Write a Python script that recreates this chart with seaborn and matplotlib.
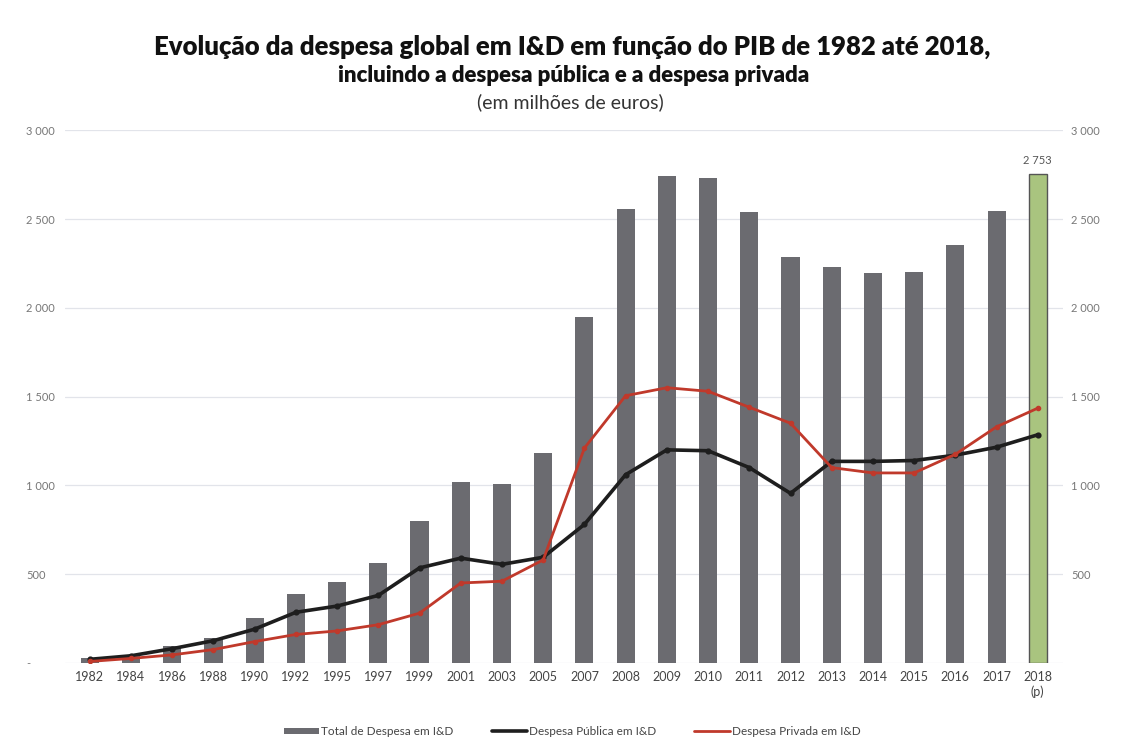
import matplotlib
matplotlib.use("Agg")
import matplotlib.pyplot as plt
from matplotlib.patches import Patch
from matplotlib.lines import Line2D
import seaborn as sns
import pandas as pd

years = ["1982", "1984", "1986", "1988", "1990", "1992", "1995", "1997", "1999",
         "2001", "2003", "2005", "2007", "2008", "2009", "2010", "2011", "2012",
         "2013", "2014", "2015", "2016", "2017", "2018\n(p)"]
total = [25, 45, 95, 140, 250, 390, 455, 565, 800, 1020, 1005, 1185, 1950, 2555,
         2745, 2730, 2540, 2285, 2230, 2195, 2200, 2355, 2545, 2753]
publica = [20, 40, 80, 125, 190, 285, 320, 380, 535, 590, 555, 595, 780, 1060,
           1200, 1195, 1100, 955, 1135, 1135, 1140, 1170, 1215, 1285]
privada = [8, 25, 45, 75, 120, 160, 180, 215, 280, 450, 460, 580, 1210, 1505,
           1550, 1530, 1440, 1350, 1100, 1070, 1070, 1175, 1330, 1435]
right_ticks = [500, 1000, 1500, 2000, 2500, 3000]
left_ticks = [0, 500, 1000, 1500, 2000, 2500, 3000]

df = pd.DataFrame({"ano": years, "total": total, "publica": publica, "privada": privada})

sns.set_theme(style="white")
font = ["Lato", "DejaVu Sans"]
plt.rcParams["font.family"] = font

fig = plt.figure(figsize=(11.22, 7.49), dpi=100)
ax = fig.add_axes([0.058, 0.115, 0.889, 0.711])

bar_colors = ["#6b6b70"] * (len(years) - 1) + ["#a9c47f"]
sns.barplot(data=df, x="ano", y="total", hue="ano", palette=bar_colors, legend=False,
            width=0.44, ax=ax, edgecolor="none", saturation=1)
last = ax.patches[-1]
last.set_edgecolor("#555555")
last.set_linewidth(1.0)

sns.pointplot(data=df, x="ano", y="publica", color="#1e1e1e", ax=ax,
              markers="o", markersize=2.5, linewidth=2.6, errorbar=None)
sns.pointplot(data=df, x="ano", y="privada", color="#c0392b", ax=ax,
              markers="o", markersize=2.5, linewidth=2.0, errorbar=None)

ax.set_ylim(0, 3000)
ax.set_xlim(-0.6, len(years) - 0.4)
ax.set_yticks(left_ticks)
ax.set_yticklabels(["-"] + [f"{v:,}".replace(",", " ") for v in left_ticks[1:]],
                   fontsize=8, color="#777777")
ax.grid(axis="y", color="#e2e4ea", linewidth=0.9)
ax.set_axisbelow(True)
ax.set_xlabel("")
ax.set_ylabel("")
ax.tick_params(axis="x", labelsize=9, colors="#444444", length=0, pad=6)
ax.tick_params(axis="y", length=0, pad=28)
for lbl in ax.get_yticklabels():
    lbl.set_horizontalalignment("left")
for s in ax.spines.values():
    s.set_visible(False)

ax2 = ax.twinx()
ax2.set_ylim(0, 3000)
ax2.set_yticks(right_ticks)
ax2.set_yticklabels([f"{v:,}".replace(",", " ") for v in right_ticks],
                    fontsize=8, color="#777777")
ax2.tick_params(axis="y", length=0, pad=6)
for s in ax2.spines.values():
    s.set_visible(False)
ax2.grid(False)

ax.text(len(years) - 1, total[-1] + 45, "2 753", ha="center", va="bottom",
        fontsize=8, color="#555555")

fig.text(0.51, 0.938, "Evolução da despesa global em I&D em função do PIB de 1982 até 2018,",
         ha="center", va="center", fontsize=18.5, fontweight="heavy", color="#111111")
fig.text(0.511, 0.899, "incluindo a despesa pública e a despesa privada",
         ha="center", va="center", fontsize=16, fontweight="heavy", color="#111111")
fig.text(0.508, 0.864, "(em milhões de euros)", ha="center", va="center",
         fontsize=14, color="#333333")

handles = [Patch(facecolor="#6b6b70", edgecolor="none"),
           Line2D([0], [0], color="#1e1e1e", lw=2.6),
           Line2D([0], [0], color="#c0392b", lw=2.0)]
labels = ["Total de Despesa em I&D", "Despesa Pública em I&D", "Despesa Privada em I&D"]
fig.legend(handles, labels, loc="center", bbox_to_anchor=(0.51, 0.023), ncol=3,
           frameon=False, fontsize=8.5, handlelength=3, handleheight=0.5,
           columnspacing=3.2, handletextpad=0.2, labelcolor="#444444")

fig.savefig("out.png", dpi=100)
